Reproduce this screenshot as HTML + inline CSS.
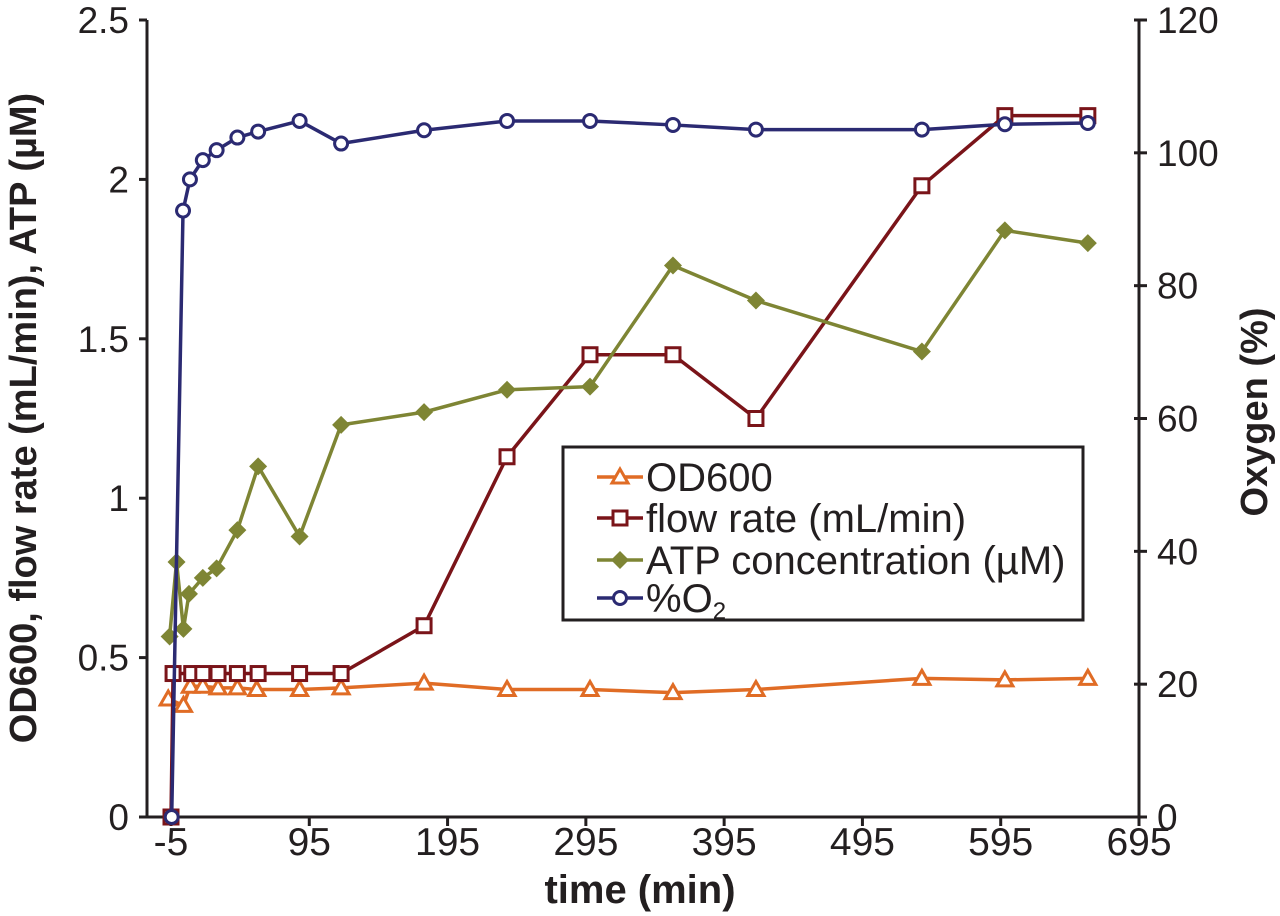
<!DOCTYPE html>
<html><head><meta charset="utf-8"><style>
html,body{margin:0;padding:0;background:#fff}
svg{display:block;font-family:"Liberation Sans",sans-serif}
</style></head><body>
<svg id="chart" width="1280" height="916" viewBox="0 0 1280 916"></svg>
<script>
const xTicks=[-5,95,195,295,395,495,595,695];
const yLeftTicks=[0,0.5,1,1.5,2,2.5];
const yLeftLabels=["0","0.5","1","1.5","2","2.5"];
const yRightTicks=[0,20,40,60,80,100,120];
const odTime=[-7,4,9,18,29,43,57,88,118,178,238,298,358,418,538,598,658];
const odVals=[0.37,0.35,0.41,0.41,0.405,0.405,0.40,0.40,0.405,0.42,0.40,0.40,0.39,0.40,0.435,0.43,0.435];
const flowTime=[-5,-3.5,10,18,29,43,58,88,118,178,238,298,358,418,538,598,658];
const flowVals=[0,0.45,0.45,0.45,0.45,0.45,0.45,0.45,0.45,0.6,1.13,1.45,1.45,1.25,1.98,2.2,2.2];
const atpTime=[-6,-1,4,8,18,28,43,58,88,118,178,238,298,358,418,538,598,658];
const atpVals=[0.566,0.80,0.59,0.70,0.75,0.78,0.90,1.10,0.88,1.23,1.27,1.34,1.35,1.73,1.62,1.46,1.84,1.80];
const o2Time=[-4.5,3.7,8.7,18,28,43,58,88,118,178,238,298,358,418,538,598,658];
const o2Vals=[0,91.3,96,98.9,100.4,102.3,103.2,104.8,101.4,103.4,104.8,104.8,104.2,103.5,103.5,104.3,104.5];

const NS="http://www.w3.org/2000/svg";
const svg=document.getElementById('chart');
const X0=147,X1=1139,YB=817,YT=20;
function xs(t){return 171+(t+5)*(X1-171)/700;}
function yl(v){return YB-v*(YB-YT)/2.5;}
function yr(v){return YB-v*(YB-YT)/120;}
function mk(tag,attrs,parent){const e=document.createElementNS(NS,tag);for(const k in attrs)e.setAttribute(k,attrs[k]);(parent||svg).appendChild(e);return e;}
const ink="#231f20";

let a=mk('line',{x1:X0,y1:YT,x2:X0,y2:YB,stroke:ink,'stroke-width':3});


a=mk('line',{x1:X1,y1:YT,x2:X1,y2:YB,stroke:ink,'stroke-width':3});


a=mk('line',{x1:X0,y1:YB,x2:X1,y2:YB,stroke:ink,'stroke-width':3});



xTicks.forEach(t=>{
  const x=xs(t);
  mk('line',{x1:x,y1:YB,x2:x,y2:YB+9,stroke:ink,'stroke-width':3});
  const tx=mk('text',{x:x,y:855,'font-size':39,'text-anchor':'middle',fill:ink});
  tx.textContent=String(t);
  
  
});
yLeftTicks.forEach((v,i)=>{
  const y=yl(v);
  mk('line',{x1:X0-8,y1:y,x2:X0,y2:y,stroke:ink,'stroke-width':3});
  const tx=mk('text',{x:129,y:y+13,'font-size':37,'text-anchor':'end',fill:ink});
  tx.textContent=yLeftLabels[i];
  
  
});
yRightTicks.forEach(v=>{
  const y=yr(v);
  mk('line',{x1:X1-5,y1:y,x2:X1+8,y2:y,stroke:ink,'stroke-width':3});
  const tx=mk('text',{x:1157,y:y+13,'font-size':37,'text-anchor':'start',fill:ink});
  tx.textContent=String(v);
  
  
});

let t=mk('text',{x:640,y:903,'font-size':40,'font-weight':'bold','text-anchor':'middle',fill:ink});
t.textContent='time (min)';


t=mk('text',{x:0,y:0,'font-size':38,'font-weight':'bold','text-anchor':'middle',fill:ink,transform:'translate(36,418) rotate(-90)'});
t.textContent='OD600, flow rate (mL/min), ATP (µM)';


t=mk('text',{x:0,y:0,'font-size':38,'font-weight':'bold','text-anchor':'middle',fill:ink,transform:'translate(1267,412) rotate(-90)'});
t.textContent='Oxygen (%)';



function marker(g,type,x,y,c){
  if(type==='tri'){mk('polygon',{points:`${x},${y-8} ${x-8},${y+6} ${x+8},${y+6}`,fill:'#fff',stroke:c,'stroke-width':3},g);}
  else if(type==='sq'){mk('rect',{x:x-7,y:y-7,width:14,height:14,fill:'#fff',stroke:c,'stroke-width':3},g);}
  else if(type==='dia'){mk('polygon',{points:`${x},${y-9} ${x+9},${y} ${x},${y+9} ${x-9},${y}`,fill:c},g);}
  else {mk('circle',{cx:x,cy:y,r:6.5,fill:'#fff',stroke:c,'stroke-width':3},g);}
}
function series(name,times,vals,yf,c,type){
  const g=mk('g',{});
  
  
  const pts=times.map((tt,i)=>xs(tt)+','+yf(vals[i])).join(' ');
  mk('polyline',{points:pts,fill:'none',stroke:c,'stroke-width':3.5,'stroke-linejoin':'round'},g);
  times.forEach((tt,i)=>marker(g,type,xs(tt),yf(vals[i]),c));
}
series('od600-series',odTime,odVals,yl,'#e06c25','tri');
series('flow-rate-series',flowTime,flowVals,yl,'#7a1419','sq');
series('atp-series',atpTime,atpVals,yl,'#7e8534','dia');
series('oxygen-series',o2Time,o2Vals,yr,'#2b2a72','circ');

const lg=mk('g',{});


mk('rect',{x:563,y:447,width:520,height:173,fill:'#fff',stroke:ink,'stroke-width':3},lg);
const legNames=['OD600','flow rate (mL/min)','ATP concentration (µM)','%O'];
const legColors=['#e06c25','#7a1419','#7e8534','#2b2a72'];
const legTypes=['tri','sq','dia','circ'];
const legY=[477,518,560,598];
legNames.forEach((n,i)=>{
  const e=mk('g',{},lg);
  
  
  mk('line',{x1:597,y1:legY[i],x2:643,y2:legY[i],stroke:legColors[i],'stroke-width':3.5},e);
  marker(e,legTypes[i],620,legY[i],legColors[i]);
  const tx=mk('text',{x:646,y:legY[i]+14,'font-size':40,fill:ink},e);
  tx.textContent=n;
  if(i===3){const s=mk('tspan',{'font-size':24,dy:7},tx);s.textContent='2';}
});
</script>
</body></html>
